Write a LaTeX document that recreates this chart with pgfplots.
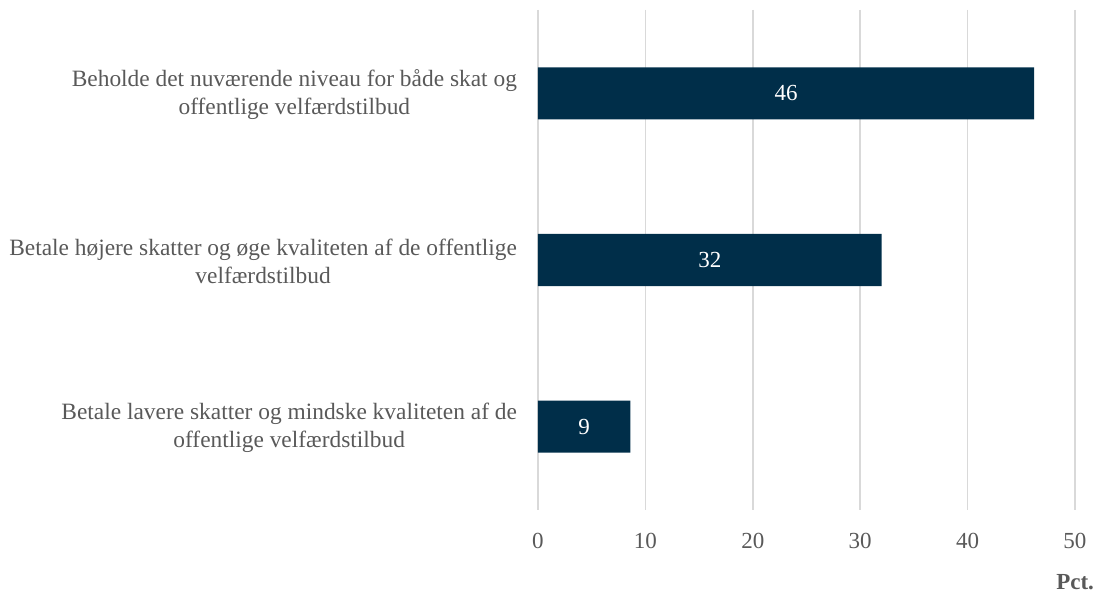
\documentclass[border=0pt]{standalone}
\usepackage{fontspec}
\setmainfont{Liberation Serif}
\usepackage{pgfplots}
\usepackage{pgfplotstable}
\pgfplotsset{compat=1.18}
\definecolor{cBar}{HTML}{002E49}
\definecolor{cText}{HTML}{595959}
\definecolor{cGrid}{HTML}{D9D9D9}

\pgfplotstableread{
y val lab
0 46.2 46
1 32.0 32
2 8.6 9
}\shares

\begin{document}
\begin{tikzpicture}
  \begin{axis}[
    scale only axis, width=268.5pt, height=250pt,
    xbar, bar width=26pt,
    xmin=0, xmax=50, ymin=-0.5, ymax=2.5, y dir=reverse,
    xtick={0,10,...,50}, ytick={0,1,2},
    yticklabels={{Beholde det nuværende niveau for både skat og\\offentlige velfærdstilbud},
                 {Betale højere skatter og øge kvaliteten af de offentlige\\velfærdstilbud},
                 {Betale lavere skatter og mindske kvaliteten af de\\offentlige velfærdstilbud}},
    yticklabel style={align=center, font=\fontsize{11.7}{14}\selectfont, text=cText,
                      xshift=-7pt, yshift=-0.5pt},
    xticklabel style={font=\fontsize{11.5}{14}\selectfont, text=cText, yshift=-8pt},
    /pgf/number format/assume math mode=true,
    axis line style={draw=none}, major tick length=0pt,
    xmajorgrids, grid style={cGrid, line width=0.8pt},
    xlabel={Pct.},
    xlabel style={at={(rel axis cs:1,0)}, anchor=east, xshift=13pt, yshift=-36pt,
                  font=\fontsize{11.5}{14}\selectfont\bfseries, text=cText},
    point meta=explicit,
    visualization depends on={rawx \as \rawx},
    nodes near coords={\pgfmathprintnumber{\pgfplotspointmeta}},
    nodes near coords style={anchor=center, xshift=-\rawx*2.685pt, text=white,
                             font=\fontsize{11.5}{14}\selectfont},
  ]
    \addplot[fill=cBar, draw=none] table[x=val, y=y, meta=lab] {\shares};
  \end{axis}
  \pgfresetboundingbox
  \path[use as bounding box] (-269pt,-41pt) rectangle (279pt,255pt);
\end{tikzpicture}
\end{document}
